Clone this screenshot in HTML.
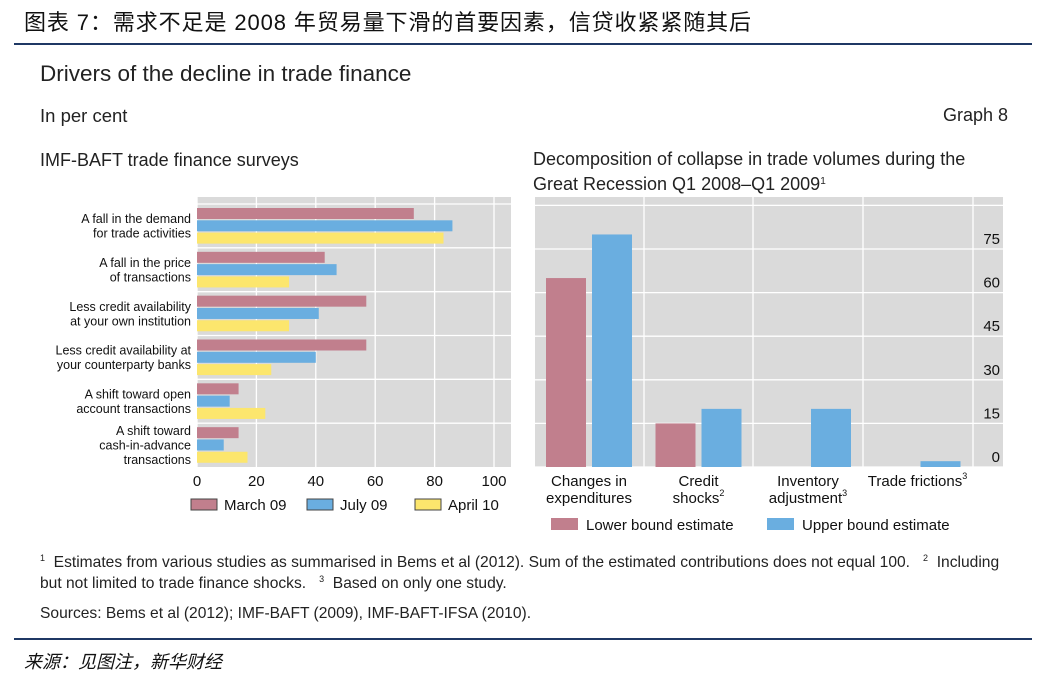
<!DOCTYPE html>
<html><head><meta charset="utf-8"><style>
body{margin:0;width:1045px;height:679px;background:#fff;font-family:"Liberation Sans","Noto Sans CJK SC",sans-serif;position:relative;overflow:hidden}
.a{position:absolute;white-space:nowrap}
sup{line-height:0;vertical-align:6px}
</style></head><body>
<div class="a" style="left:24px;top:5px;font-size:22px;letter-spacing:0.9px;color:#111">图表 7：需求不足是 2008 年贸易量下滑的首要因素，信贷收紧紧随其后</div>
<div class="a" style="left:14px;top:43px;width:1018px;height:2px;background:#1f3864"></div>
<div class="a" style="left:40px;top:61px;font-size:22.5px;color:#222">Drivers of the decline in trade finance</div>
<div class="a" style="left:40px;top:105px;font-size:18.5px;color:#222">In per cent</div>
<div class="a" style="right:37px;top:105px;font-size:18px;color:#222">Graph 8</div>
<div class="a" style="left:40px;top:150px;font-size:18px;color:#222">IMF-BAFT trade finance surveys</div>
<div class="a" style="left:533px;top:147px;font-size:18px;color:#222;line-height:25px">Decomposition of collapse in trade volumes during the<br>Great Recession Q1 2008–Q1 2009<sup style="font-size:10px">1</sup></div>
<svg class="a" style="left:0;top:0" width="1045" height="679" id="svg"></svg>
<div class="a" style="left:40px;top:552px;font-size:15.6px;color:#222;line-height:21px"><sup style="font-size:9px">1</sup>&nbsp; Estimates from various studies as summarised in Bems et al (2012). Sum of the estimated contributions does not equal 100. &nbsp; <sup style="font-size:9px">2</sup>&nbsp; Including<br>but not limited to trade finance shocks. &nbsp; <sup style="font-size:9px">3</sup>&nbsp; Based on only one study.</div>
<div class="a" style="left:40px;top:605px;font-size:15.6px;color:#222">Sources: Bems et al (2012); IMF-BAFT (2009), IMF-BAFT-IFSA (2010).</div>
<div class="a" style="left:14px;top:638px;width:1018px;height:2px;background:#1f3864"></div>
<div class="a" style="left:24px;top:648px;font-size:18px;font-style:italic;color:#111">来源：见图注，新华财经</div>
<script>
const leftCats=[["A fall in the demand","for trade activities"],["A fall in the price","of transactions"],["Less credit availability","at your own institution"],["Less credit availability at","your counterparty banks"],["A shift toward open","account transactions"],["A shift toward","cash-in-advance","transactions"]];
const march09=[73,43,57,57,14,14];
const july09=[86,47,41,40,11,9];
const april10=[83,31,31,25,23,17];
const leftTicks=[0,20,40,60,80,100];
const rightCats=[["Changes in","expenditures"],["Credit","shocks","2"],["Inventory","adjustment","3"],["Trade frictions","","3"]];
const lowerB=[65,15,0,0];
const upperB=[80,20,20,2];
const rightTicks=[0,15,30,45,60,75];
const NS="http://www.w3.org/2000/svg",svg=document.getElementById('svg');
function mk(t,a,name,txt){const e=document.createElementNS(NS,t);for(const k in a)e.setAttribute(k,a[k]);


if(txt!==undefined)e.textContent=txt;svg.appendChild(e);return e;}
const RED="#c17f8d",BLUE="#6aaee0",YEL="#fce66d";
const L={x0:197,x1:511,y0:197,y1:467};
const lx=v=>197+v*(494-197)/100;
mk('rect',{x:L.x0,y:L.y0,width:L.x1-L.x0,height:L.y1-L.y0,fill:"#dadada"},'left-plot-bg');
leftTicks.forEach(t=>{mk('line',{x1:lx(t),x2:lx(t),y1:L.y0,y2:L.y1,stroke:"#fff","stroke-width":1.3},'left-gridline');
mk('text',{x:lx(t),y:486,"font-size":15,"text-anchor":"middle",fill:"#111"},'x-tick-label',t);});
const gh=(L.y1-204)/leftCats.length;
leftCats.forEach((c,i)=>{const gy=204+i*gh;
mk('line',{x1:L.x0,x2:L.x1,y1:gy,y2:gy,stroke:"#fff","stroke-width":1.3},'left-group-line');
[[march09,RED],[july09,BLUE],[april10,YEL]].forEach(([s,col],j)=>{
mk('rect',{x:lx(0),y:gy+4+j*12.3,width:lx(s[i])-lx(0),height:11,fill:col},'bar-'+['march09','july09','april10'][j]);});
const n=c.length,cy=gy+gh/2;c.forEach((l,k)=>mk('text',{x:191,y:cy+(k-(n-1)/2)*14.5+4.5,"font-size":12.5,"text-anchor":"end",fill:"#111"},'category-label',l));});
[["March 09",RED,191],["July 09",BLUE,307],["April 10",YEL,415]].forEach(([t,c,x])=>{
mk('rect',{x:x,y:499,width:26,height:11,fill:c,stroke:"#444"},'legend-swatch');
mk('text',{x:x+33,y:510,"font-size":15,fill:"#111"},'legend-entry',t);});
const R={x0:535,x1:1003,y0:197,y1:467};
const ry=v=>467-v*(467-249)/75;
mk('rect',{x:R.x0,y:R.y0,width:R.x1-R.x0,height:R.y1-R.y0,fill:"#dadada"},'right-plot-bg');
[0,15,30,45,60,75,90].forEach(t=>mk('line',{x1:R.x0,x2:R.x1,y1:ry(t),y2:ry(t),stroke:"#fff","stroke-width":1.3},'right-gridline'));
rightTicks.forEach(t=>mk('text',{x:1000,y:ry(t)-5,"font-size":15,"text-anchor":"end",fill:"#111"},'y-tick-label',t));
const cw=109.5;
[644,753,863,973].forEach(x=>mk('line',{x1:x,x2:x,y1:R.y0,y2:R.y1,stroke:"#fff","stroke-width":1.3},'right-separator'));
rightCats.forEach((c,i)=>{const cx=535+i*cw;
mk('rect',{x:cx+11,y:ry(lowerB[i]),width:40,height:ry(0)-ry(lowerB[i]),fill:RED},'bar-lower-bound');
mk('rect',{x:cx+57,y:ry(upperB[i]),width:40,height:ry(0)-ry(upperB[i]),fill:BLUE},'bar-upper-bound');
const mid=cx+54;
const t1=mk('text',{x:mid,y:486,"font-size":15,"text-anchor":"middle",fill:"#111"},'category-label',c[0]);
if(c[1]){const t2=mk('text',{x:mid,y:503,"font-size":15,"text-anchor":"middle",fill:"#111"},'category-label',c[1]);
const s=document.createElementNS(NS,'tspan');s.setAttribute('font-size',9);s.setAttribute('dy',-7);s.textContent=c[2]||'';t2.appendChild(s);}
else if(c[2]){const s=document.createElementNS(NS,'tspan');s.setAttribute('font-size',9);s.setAttribute('dy',-7);s.textContent=c[2];t1.appendChild(s);}});
[["Lower bound estimate",RED,551],["Upper bound estimate",BLUE,767]].forEach(([t,c,x])=>{
mk('rect',{x:x,y:518,width:27,height:12,fill:c},'legend-swatch');
mk('text',{x:x+35,y:530,"font-size":15,fill:"#111"},'legend-entry',t);});
</script>
</body></html>
